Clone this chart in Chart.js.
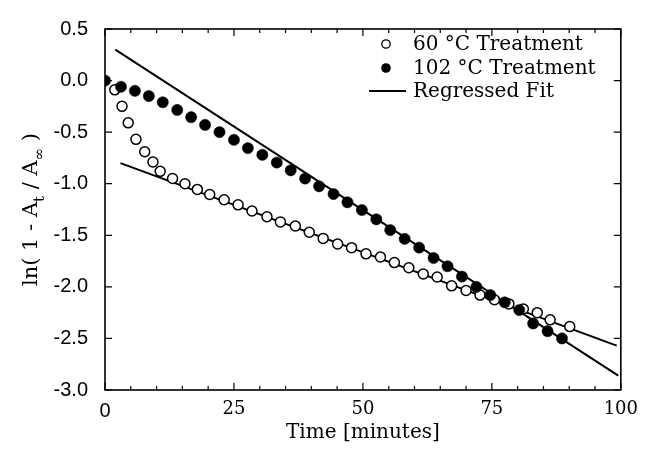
<!DOCTYPE html>
<html>
<head>
<meta charset="utf-8">
<script src="https://cdn.jsdelivr.net/npm/chart.js@4.4.1/dist/chart.umd.min.js"></script>
<style>
  html, body { margin: 0; padding: 0; background: #ffffff; }
</style>
</head>
<body>
<canvas id="chart" width="647" height="452"></canvas>
<script>
// 60 °C treatment (open circles)
var time60 = [1.9, 3.3, 4.5, 6.0, 7.7, 9.3, 10.7, 13.1, 15.5, 17.9, 20.3, 23.1, 25.8, 28.5, 31.4, 34.0,
              36.9, 39.6, 42.3, 45.1, 47.8, 50.6, 53.4, 56.1, 58.9, 61.7, 64.4, 67.2, 70.0, 72.7, 75.5,
              78.3, 81.1, 83.8, 86.3, 90.1];
var ln60 = [-0.09, -0.25, -0.41, -0.57, -0.69, -0.79, -0.88, -0.95, -1.00, -1.055, -1.105, -1.155, -1.205,
            -1.265, -1.32, -1.37, -1.41, -1.47, -1.53, -1.585, -1.62, -1.68, -1.71, -1.765, -1.815, -1.875,
            -1.905, -1.99, -2.035, -2.08, -2.125, -2.165, -2.215, -2.25, -2.32, -2.385];

// 102 °C treatment (filled circles)
var time102 = [0, 3.1, 5.8, 8.5, 11.2, 14.0, 16.7, 19.4, 22.2, 25.0, 27.7, 30.5, 33.3, 36.0, 38.8, 41.5,
               44.3, 47.0, 49.8, 52.6, 55.3, 58.1, 60.9, 63.7, 66.4, 69.2, 72.0, 74.7, 77.5, 80.3, 83.0,
               85.8, 88.6];
var ln102 = [0.0, -0.06, -0.10, -0.15, -0.21, -0.285, -0.355, -0.43, -0.50, -0.575, -0.655, -0.72, -0.795,
             -0.87, -0.95, -1.025, -1.10, -1.18, -1.255, -1.345, -1.45, -1.535, -1.62, -1.72, -1.80, -1.90,
             -2.00, -2.08, -2.15, -2.225, -2.355, -2.43, -2.50];

// regressed fits (end points)
var fit60Time = [3.0, 99.2];
var fit60Ln = [-0.80, -2.57];
var fit102Time = [2.0, 99.5];
var fit102Ln = [0.30, -2.86];

var legendLabels = ["60 \u00B0C Treatment", "102 \u00B0C Treatment", "Regressed Fit"];

function toPoints(xs, ys) {
    var pts = [];
    for (var i = 0; i < xs.length; i++) {
        pts.push({x: xs[i], y: ys[i]});
    }
    return pts;
}

var serif = "'DejaVu Serif', serif";
var sans = "'Liberation Sans', Arial, sans-serif";

// frame with inward ticks, like the original plot
var framePlugin = {
    id: "frame",
    afterDatasetsDraw: function(chart) {
        var ctx = chart.ctx;
        var a = chart.chartArea;
        var xs = chart.scales.x;
        var ys = chart.scales.y;
        ctx.save();
        ctx.strokeStyle = "#000";
        ctx.lineWidth = 1.6;
        ctx.strokeRect(a.left, a.top, a.right - a.left, a.bottom - a.top);
        ctx.lineWidth = 1.2;
        ctx.beginPath();
        for (var t = 0; t <= 100; t += 5) {
            var px = xs.getPixelForValue(t);
            var len = (t % 25 == 0) ? 7 : 4;
            ctx.moveTo(px, a.bottom);
            ctx.lineTo(px, a.bottom - len);
            ctx.moveTo(px, a.top);
            ctx.lineTo(px, a.top + len);
        }
        for (var v = -3; v <= 0.5; v += 0.5) {
            var py = ys.getPixelForValue(v);
            ctx.moveTo(a.left, py);
            ctx.lineTo(a.left + 7, py);
            ctx.moveTo(a.right, py);
            ctx.lineTo(a.right - 7, py);
        }
        ctx.stroke();
        ctx.restore();
    }
};

// y axis title with subscripts: ln( 1 - A_t / A_inf )
var yTitlePlugin = {
    id: "yTitle",
    afterDraw: function(chart) {
        var ctx = chart.ctx;
        var a = chart.chartArea;
        var big = "21px " + serif;
        var small = "15px " + serif;
        var parts = [
            {text: "ln( 1 - A", font: big, dy: 0},
            {text: "t", font: small, dy: 7},
            {text: " / A", font: big, dy: 0},
            {text: "\u221E", font: small, dy: 7},
            {text: " )", font: big, dy: 0}
        ];
        ctx.save();
        var total = 0;
        parts.forEach(function(p) {
            ctx.font = p.font;
            p.w = ctx.measureText(p.text).width;
            total += p.w;
        });
        ctx.translate(37, (a.top + a.bottom) / 2);
        ctx.rotate(-Math.PI / 2);
        ctx.fillStyle = "#000";
        ctx.textBaseline = "alphabetic";
        var x = -total / 2;
        parts.forEach(function(p) {
            ctx.font = p.font;
            ctx.fillText(p.text, x, p.dy);
            x += p.w;
        });
        ctx.restore();
    }
};

// legend in the upper right of the plot
var legendPlugin = {
    id: "plotLegend",
    afterDraw: function(chart) {
        var ctx = chart.ctx;
        var textX = 413;
        var rows = [44, 68, 91];
        ctx.save();
        ctx.font = "20px " + serif;
        ctx.fillStyle = "#000";
        ctx.textBaseline = "middle";
        for (var i = 0; i < legendLabels.length; i++) {
            ctx.fillText(legendLabels[i], textX, rows[i] + 1);
        }
        ctx.strokeStyle = "#000";
        ctx.lineWidth = 1.3;
        ctx.beginPath();
        ctx.arc(386, rows[0], 4.2, 0, Math.PI * 2);
        ctx.stroke();
        ctx.beginPath();
        ctx.arc(386, rows[1], 4.8, 0, Math.PI * 2);
        ctx.fill();
        ctx.lineWidth = 2;
        ctx.beginPath();
        ctx.moveTo(369, rows[2]);
        ctx.lineTo(406, rows[2]);
        ctx.stroke();
        ctx.restore();
    }
};

var ctx = document.getElementById("chart");
var graph = new Chart(ctx, {
    type: "scatter",
    data: {
        datasets: [
            {
                label: legendLabels[0],
                data: toPoints(time60, ln60),
                pointRadius: 5,
                pointBorderWidth: 1.5,
                pointBackgroundColor: "#ffffff",
                pointBorderColor: "#000000",
                order: 1
            },
            {
                label: legendLabels[1],
                data: toPoints(time102, ln102),
                pointRadius: 5.6,
                pointBorderWidth: 0.5,
                pointBackgroundColor: "#000000",
                pointBorderColor: "#000000",
                order: 0
            },
            {
                label: "fit60",
                data: toPoints(fit60Time, fit60Ln),
                showLine: true,
                pointRadius: 0,
                borderColor: "#000000",
                borderWidth: 2,
                order: 3
            },
            {
                label: "fit102",
                data: toPoints(fit102Time, fit102Ln),
                showLine: true,
                pointRadius: 0,
                borderColor: "#000000",
                borderWidth: 2,
                order: 3
            }
        ]
    },
    options: {
        responsive: false,
        devicePixelRatio: 1,
        animation: false,
        layout: { padding: { top: 17, right: 22, bottom: 0, left: 0 } },
        plugins: {
            legend: { display: false },
            tooltip: { enabled: false }
        },
        scales: {
            x: {
                type: "linear",
                min: 0,
                max: 100,
                grid: { display: false, drawTicks: false },
                border: { display: false },
                ticks: {
                    stepSize: 25,
                    padding: 9,
                    color: "#000",
                    maxRotation: 0,
                    font: function(c) {
                        if (c.tick && c.tick.value === 0) {
                            return { family: sans, size: 20 };
                        }
                        return { family: serif, size: 18 };
                    }
                },
                title: {
                    display: true,
                    text: "Time [minutes]",
                    color: "#000",
                    font: { family: serif, size: 20 },
                    padding: { top: 0, bottom: 7 }
                },
                afterFit: function(scale) { scale.height = 62; }
            },
            y: {
                min: -3,
                max: 0.5,
                grid: { display: false, drawTicks: false },
                border: { display: false },
                ticks: {
                    stepSize: 0.5,
                    padding: 17,
                    color: "#000",
                    font: { family: sans, size: 20 },
                    callback: function(v) { return v.toFixed(1); }
                },
                afterFit: function(scale) { scale.width = 105; }
            }
        }
    },
    plugins: [framePlugin, yTitlePlugin, legendPlugin]
});
</script>
</body>
</html>
